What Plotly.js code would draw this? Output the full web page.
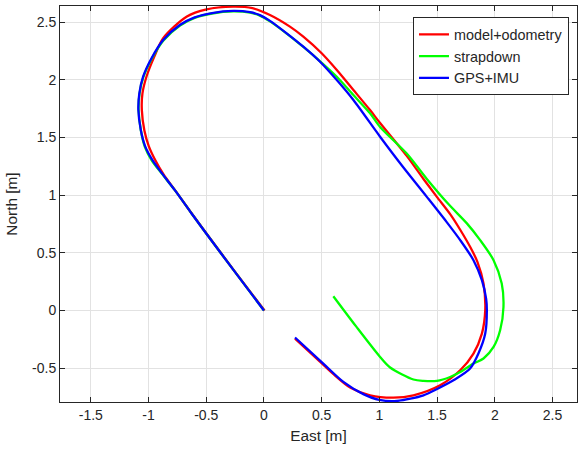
<!DOCTYPE html>
<html>
<head>
<meta charset="utf-8">
<script src="https://cdn.plot.ly/plotly-3.0.1.min.js"></script>
<style>html,body{margin:0;padding:0;background:#fff;}#plot{width:581px;height:451px;}</style>
</head>
<body>
<div id="plot"></div>
<script>
// Series names
const seriesNames = ['model+odometry', 'strapdown', 'GPS+IMU'];

// model+odometry (red)
const odoEast = [0.005,-0.25,-0.5,-0.627,-0.772,-0.87,-0.94,-0.998,-1.036,-1.058,-1.053,-1.018,-0.95,-0.873,-0.671,-0.497,-0.266,-0.1,0.052,0.225,0.341,0.5,0.631,0.775,0.919,1.006,1.237,1.382,1.498,1.613,1.70,1.787,1.85,1.902,1.917,1.888,1.815,1.70,1.526,1.295,1.122,0.919,0.75,0.6,0.45,0.269];
const odoNorth = [0.0,0.335,0.67,0.843,1.045,1.18,1.30,1.425,1.56,1.737,1.88,2.026,2.2,2.36,2.546,2.61,2.633,2.62,2.561,2.46,2.373,2.229,2.084,1.911,1.737,1.625,1.34,1.14,0.985,0.835,0.70,0.55,0.42,0.234,0.003,-0.2,-0.373,-0.518,-0.648,-0.735,-0.755,-0.735,-0.67,-0.55,-0.41,-0.243];

// strapdown (green)
const sdEast = [0.0,-0.25,-0.5,-0.627,-0.772,-0.887,-0.974,-1.032,-1.067,-1.086,-1.078,-1.045,-0.972,-0.871,-0.727,-0.6,-0.45,-0.266,-0.12,-0.035,0.052,0.197,0.341,0.486,0.631,0.775,0.919,1.006,1.237,1.411,1.6,1.758,1.873,1.989,2.06,2.075,2.046,1.989,1.902,1.815,1.70,1.613,1.498,1.38,1.295,1.093,1.006,0.8,0.601];
const sdNorth = [0.0,0.333,0.667,0.841,1.043,1.188,1.304,1.419,1.564,1.737,1.88,2.022,2.182,2.34,2.47,2.536,2.574,2.592,2.581,2.556,2.506,2.4,2.284,2.16,2.026,1.867,1.709,1.59,1.36,1.14,0.92,0.755,0.61,0.436,0.234,0.031,-0.171,-0.316,-0.416,-0.46,-0.533,-0.576,-0.61,-0.61,-0.598,-0.494,-0.402,-0.14,0.124];

// GPS+IMU (blue)
const gpsEast = [0.0,-0.25,-0.5,-0.627,-0.772,-0.885,-0.97,-1.03,-1.067,-1.088,-1.08,-1.047,-0.974,-0.873,-0.729,-0.6,-0.45,-0.266,-0.12,-0.035,0.052,0.197,0.341,0.486,0.631,0.775,1.006,1.2,1.411,1.58,1.70,1.815,1.888,1.925,1.931,1.917,1.858,1.786,1.642,1.5,1.382,1.151,1.0,0.861,0.688,0.514,0.269];
const gpsNorth = [0.0,0.333,0.667,0.841,1.043,1.19,1.31,1.425,1.564,1.737,1.88,2.026,2.186,2.344,2.474,2.54,2.578,2.596,2.585,2.56,2.51,2.402,2.286,2.156,1.997,1.824,1.506,1.25,0.985,0.77,0.61,0.436,0.263,0.10,0.003,-0.2,-0.373,-0.503,-0.605,-0.68,-0.735,-0.784,-0.775,-0.725,-0.619,-0.46,-0.234];

// Axis ticks
const xTickVals = [-1.5,-1,-0.5,0,0.5,1,1.5,2,2.5];
const xTickText = ['-1.5','-1','-0.5','0','0.5','1','1.5','2','2.5'];
const yTickVals = [-0.5,0,0.5,1,1.5,2,2.5];
const yTickText = ['-0.5','0','0.5','1','1.5','2','2.5'];

const colors = ['#ff0000', '#00ff00', '#0000ff'];
const font = 'Liberation Sans, Arial, Helvetica, sans-serif';

const data = [
  {x: odoEast, y: odoNorth, name: seriesNames[0]},
  {x: sdEast, y: sdNorth, name: seriesNames[1]},
  {x: gpsEast, y: gpsNorth, name: seriesNames[2]}
].map((t, i) => Object.assign(t, {
  type: 'scatter', mode: 'lines',
  line: {color: colors[i], width: 2.3, shape: 'spline', smoothing: 0.8}
}));

const axisCommon = {
  showgrid: true, gridcolor: '#e2e2e2', gridwidth: 1,
  zeroline: false, showline: true, linecolor: '#262626', linewidth: 1,
  mirror: 'ticks', ticks: 'inside', ticklen: 5, tickcolor: '#262626', tickwidth: 1,
  tickfont: {family: font, size: 14, color: '#262626'},
  tickmode: 'array'
};

const layout = {
  width: 581, height: 451,
  margin: {l: 60, r: 4, t: 6, b: 49, pad: 0},
  paper_bgcolor: '#ffffff', plot_bgcolor: '#ffffff',
  showlegend: true,
  legend: {
    x: 0.9845, xanchor: 'right', y: 0.971, yanchor: 'top',
    bgcolor: '#ffffff', bordercolor: '#262626', borderwidth: 1,
    font: {family: font, size: 14.4, color: '#262626'},
    tracegroupgap: 0, itemwidth: 30
  },
  xaxis: Object.assign({}, axisCommon, {
    range: [-1.767, 2.712], tickvals: xTickVals, ticktext: xTickText,
    title: {text: 'East [m]', font: {family: font, size: 15.4, color: '#262626'}, standoff: 8}
  }),
  yaxis: Object.assign({}, axisCommon, {
    range: [-0.793, 2.639], tickvals: yTickVals, ticktext: yTickText,
    title: {text: 'North [m]', font: {family: font, size: 15.4, color: '#262626'}, standoff: 10}
  })
};

Plotly.newPlot('plot', data, layout, {displayModeBar: false, staticPlot: true});
</script>
</body>
</html>
